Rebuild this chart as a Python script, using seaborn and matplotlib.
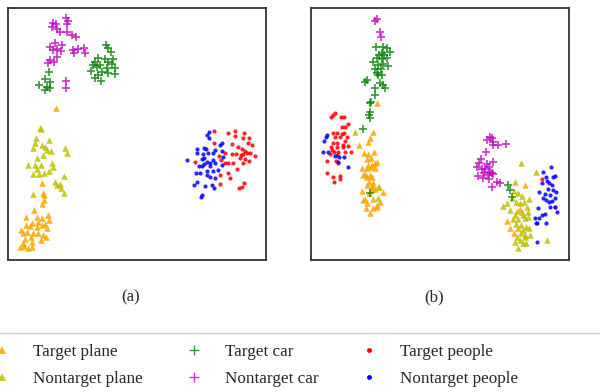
import numpy as np
import pandas as pd
import matplotlib
matplotlib.use("Agg")
import matplotlib.pyplot as plt
from matplotlib.lines import Line2D
import seaborn as sns

# ---------------- data (t-SNE embedding) ----------------
labels = ["Target plane", "Nontarget plane", "Target car", "Nontarget car",
          "Target people", "Nontarget people"]
colors = ["#FFA500", "#BFBF00", "#008000", "#BF00BF", "#FF0000", "#0000FF"]

# Panel (a)
a_target_plane = [(56,108),(42,183),(43,193),(44,195),(44,200),(42,204),(34,210),(26,217),(48,215),(49,220),
                  (42,218),(37,217),(32,223),(38,222),(42,225),(45,224),(47,228),(37,227),(30,226),(26,225),
                  (21,230),(23,233),(27,232),(33,233),(38,233),(43,235),(46,237),(31,237),(25,239),(23,243),
                  (32,242),(41,240),(20,247),(24,246),(28,248),(32,247)]
a_nontarget_plane = [(40,128),(41,129),(36,138),(35,143),(33,148),(42,145),(45,147),(49,140),(47,150),(51,151),
                     (43,155),(37,158),(28,165),(35,165),(37,169),(41,165),(52,163),(53,167),(49,171),(44,173),
                     (39,174),(33,174),(65,148),(67,153),(55,182),(57,185),(60,184),(61,188),(64,193),(33,194),
                     (64,176)]
a_target_car = [(106,45),(108,48),(111,52),(98,58),(95,62),(93,65),(91,71),(97,67),(100,65),(105,59),
                (108,62),(113,59),(112,64),(115,68),(107,68),(102,72),(98,75),(95,78),(101,81),(108,73),
                (115,74),(49,72),(45,79),(50,82),(39,85),(47,87),(50,88),(45,90)]
a_nontarget_car = [(53,23),(56,24),(52,27),(57,29),(60,32),(68,21),(67,24),(67,32),(72,35),(76,37),
                   (55,43),(50,47),(53,50),(57,49),(62,45),(61,51),(73,50),(74,53),(78,49),(84,48),
                   (85,53),(57,57),(50,60),(48,63),(54,62),(66,81),(66,88),(66,18)]
a_target_people = [(214,131),(228,133),(235,131),(244,133),(235,136),(243,138),(249,138),(248,143),(252,145),(232,144),
                   (214,143),(238,147),(242,149),(245,151),(247,153),(243,154),(250,153),(255,156),(236,154),(241,155),
                   (232,154),(225,153),(219,156),(221,160),(225,163),(228,163),(233,163),(240,158),(245,159),(249,161),
                   (243,163),(237,169),(228,173),(230,178),(220,175),(195,162),(220,184),(244,183),(242,187),(239,188)]
a_nontarget_people = [(209,132),(207,135),(209,138),(222,143),(220,145),(197,149),(197,153),(204,148),(206,149),(203,154),
                      (208,153),(213,153),(215,150),(222,151),(187,160),(202,159),(204,158),(207,162),(204,164),(202,166),
                      (210,163),(213,160),(215,163),(222,165),(199,166),(210,166),(207,171),(213,171),(218,170),(196,173),
                      (200,173),(207,175),(210,177),(215,178),(197,182),(194,185),(205,186),(212,185),(214,188),(202,195),
                      (201,197),(223,157)]

# Panel (b)
b_target_plane = [(377,103),(373,132),(370,138),(368,142),(359,145),(364,153),(368,154),(374,152),(367,159),(371,158),
                  (375,163),(377,162),(368,165),(372,165),(362,168),(367,168),(371,167),(375,168),(365,174),(370,175),
                  (363,175),(367,177),(372,177),(369,182),(373,183),(367,185),(372,186),(379,187),(383,192),(362,191),
                  (372,189),(375,189),(369,193),(365,199),(373,199),(363,200),(380,202),(367,203),(377,205),(373,208),
                  (366,208),(377,207),(370,213),(525,185),(520,209),(507,221),(510,228),(514,233)]
b_nontarget_plane = [(355,132),(378,187),(378,198),(521,163),(536,172),(515,182),(514,191),(518,193),(522,196),(529,199),
                     (512,198),(507,203),(503,206),(516,202),(520,203),(524,202),(527,207),(510,210),(517,211),(522,212),
                     (528,212),(515,215),(523,215),(513,219),(518,219),(525,218),(528,217),(516,224),(521,225),(526,227),
                     (518,228),(523,230),(529,228),(521,233),(525,235),(530,235),(517,237),(525,237),(520,240),(515,242),
                     (523,243),(526,243),(518,248),(547,240)]
b_target_car = [(376,47),(383,47),(387,48),(390,52),(382,53),(379,55),(384,55),(377,58),(382,59),(387,58),
                (373,62),(378,65),(383,64),(388,66),(375,69),(381,69),(377,73),(378,75),(382,75),(367,80),
                (365,82),(380,83),(383,85),(385,88),(375,88),(375,95),(371,102),(370,103),(370,112),(369,115),
                (370,118),(363,129),(508,185),(510,190),(512,197),(370,193)]
b_nontarget_car = [(375,21),(377,19),(380,32),(381,37),(490,137),(492,138),(487,140),(493,142),(493,145),(498,145),
                   (506,144),(486,152),(481,159),(479,163),(493,162),(487,164),(489,167),(477,167),(482,169),(485,169),
                   (490,172),(493,174),(488,175),(484,173),(492,173),(478,176),(483,178),(489,179),(497,182),(500,183),
                   (492,187)]
b_target_people = [(335,113),(333,115),(331,117),(341,117),(344,117),(348,124),(342,127),(345,127),(333,133),(337,133),
                   (342,134),(344,133),(335,137),(340,137),(347,137),(345,141),(333,143),(337,143),(343,145),(348,146),
                   (331,147),(337,147),(343,147),(332,150),(334,152),(338,152),(345,152),(351,152),(330,154),(337,155),
                   (327,161),(336,161),(338,163),(327,173),(333,177),(340,176),(340,179),(334,182),(542,179),(555,207)]
b_nontarget_people = [(327,135),(326,137),(324,141),(323,152),(328,152),(335,156),(339,157),(344,157),(338,162),(348,167),
                      (551,167),(543,172),(546,177),(553,177),(555,176),(542,183),(547,181),(549,183),(552,185),(539,192),
                      (548,189),(553,190),(556,192),(545,194),(550,195),(555,198),(543,198),(546,200),(549,202),(552,201),
                      (538,208),(550,207),(555,207),(557,212),(542,215),(545,214),(535,218),(539,218),(537,223),(536,223),
                      (546,223),(537,242)]

panel_a = [a_target_plane, a_nontarget_plane, a_target_car, a_nontarget_car, a_target_people, a_nontarget_people]
panel_b = [b_target_plane, b_nontarget_plane, b_target_car, b_nontarget_car, b_target_people, b_nontarget_people]
panel_titles = ["(a)", "(b)"]

# ---------------- style ----------------
markers = ["^", "^", "+", "+", "o", "o"]
sizes = [22, 22, 32, 32, 9, 9]

sns.set_theme(style="white")
plt.rcParams["font.family"] = ["Liberation Serif", "DejaVu Serif"]

fig = plt.figure(figsize=(6.0, 3.92), dpi=100)
W, H = 600.0, 392.0
frames = [(8, 266), (311, 569)]
top, bottom = 8, 260

for pi, (panel, (x0, x1)) in enumerate(zip([panel_a, panel_b], frames)):
    ax = fig.add_axes([x0 / W, 1 - bottom / H, (x1 - x0) / W, (bottom - top) / H])
    for lab, pts, c, m, s in zip(labels, panel, colors, markers, sizes):
        df = pd.DataFrame(pts, columns=["x", "y"])
        if m == "+":
            sns.scatterplot(data=df, x="x", y="y", ax=ax, marker=m, s=s, color=c,
                            linewidth=1.2, alpha=0.8, legend=False)
        else:
            sns.scatterplot(data=df, x="x", y="y", ax=ax, marker=m, s=s, color=c,
                            linewidth=0, alpha=0.85, legend=False)
    ax.set_xlim(x0, x1)
    ax.set_ylim(bottom, top)
    ax.set_xticks([])
    ax.set_yticks([])
    ax.set_xlabel("")
    ax.set_ylabel("")
    for sp in ax.spines.values():
        sp.set_color("#333333")
        sp.set_linewidth(1.3)
    fig.text(((x0 + x1) / 2 - 6) / W, 1 - 297 / H, panel_titles[pi],
             ha="center", va="center", fontsize=12)

# legend
handles = []
for lab, c, m in zip(labels, colors, markers):
    if m == "+":
        h = Line2D([], [], linestyle="none", marker="+", color=c, markersize=7, markeredgewidth=1.0, alpha=0.8)
    elif m == "^":
        h = Line2D([], [], linestyle="none", marker="^", color=c, markersize=6, markeredgewidth=0, alpha=0.85)
    else:
        h = Line2D([], [], linestyle="none", marker="o", color=c, markersize=3.5, markeredgewidth=0)
    handles.append(h)

fig.legend(handles=handles, labels=labels, ncol=3, loc="upper left",
           bbox_to_anchor=(-15 / W, 1 - 344 / H), frameon=False, fontsize=12.3,
           borderpad=0, handlelength=2.0, handletextpad=0.8, columnspacing=2.0,
           labelspacing=0.62, borderaxespad=0)
fig.add_artist(Line2D([0, 1], [1 - 333 / H, 1 - 333 / H], transform=fig.transFigure,
                      color="#d0d0d0", linewidth=1.0))

fig.savefig("out.png", dpi=100)
